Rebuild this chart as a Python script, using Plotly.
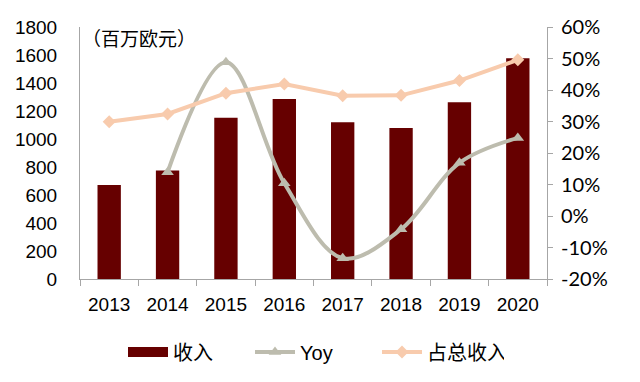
import plotly.graph_objects as go

years = ["2013", "2014", "2015", "2016", "2017", "2018", "2019", "2020"]
revenue = [672, 775, 1152, 1285, 1119, 1079, 1262, 1577]
yoy_years = ["2014", "2015", "2016", "2017", "2018", "2019", "2020"]
yoy = [13.9, 48.8, 10.4, -13.4, -4.2, 16.9, 24.8]
share = [29.9, 32.4, 39.0, 41.9, 38.2, 38.3, 43.0, 49.6]

left_ticks = [0, 200, 400, 600, 800, 1000, 1200, 1400, 1600, 1800]
right_ticks = [-20, -10, 0, 10, 20, 30, 40, 50, 60]

BAR = "#660000"
YOY = "#BDBCAE"
SHARE = "#F8CBAD"

fig = go.Figure()
fig.add_trace(go.Bar(x=years, y=revenue, name="收入", marker_color=BAR,
                     width=0.4, yaxis="y", showlegend=False))
# legend-only entry drawn as a wide block like the original
fig.add_trace(go.Scatter(x=[None], y=[None], name="收入", mode="lines",
                         line=dict(color=BAR, width=12), yaxis="y"))
fig.add_trace(go.Scatter(x=yoy_years, y=yoy, name="Yoy", mode="lines+markers",
                         line=dict(color=YOY, width=4, shape="spline", smoothing=1.0),
                         marker=dict(symbol="triangle-up", size=11, color=YOY),
                         yaxis="y2"))
fig.add_trace(go.Scatter(x=years, y=share, name="占总收入", mode="lines+markers",
                         line=dict(color=SHARE, width=4),
                         marker=dict(symbol="diamond", size=10, color=SHARE),
                         yaxis="y2"))

fig.update_layout(
    template="none",
    width=640, height=382,
    margin=dict(l=80, r=93, t=27, b=102),
    plot_bgcolor="white", paper_bgcolor="white",
    font=dict(family="Liberation Sans, Arial", size=19, color="#000000"),
    showlegend=True,
    legend=dict(orientation="h", x=0.5, xanchor="center", y=-0.285, yanchor="middle",
                font=dict(size=20, family="Liberation Sans, Noto Sans CJK SC"),
                itemwidth=40, entrywidth=72, entrywidthmode="pixels",
                traceorder="normal", bgcolor="rgba(0,0,0,0)"),
    xaxis=dict(type="category", range=[-0.5, 7.5], showline=True, linecolor="#A6A6A6",
               linewidth=1, ticks="outside", tickson="boundaries", ticklen=6,
               tickcolor="#A6A6A6", showgrid=False, zeroline=False, automargin=False,
               ticklabelstandoff=8, tickfont=dict(size=19)),
    yaxis=dict(range=[0, 1800], tickvals=left_ticks, showline=True, linecolor="#A6A6A6",
               linewidth=1, showgrid=False, zeroline=False, ticks="", ticklabelstandoff=18,
               automargin=False, tickfont=dict(size=19)),
    yaxis2=dict(range=[-20, 60], tickvals=right_ticks,
                ticktext=[f"{v}%" for v in right_ticks], overlaying="y", side="right",
                showline=True, linecolor="#A6A6A6", linewidth=1, showgrid=False,
                zeroline=False, ticks="outside", ticklen=5, tickcolor="#A6A6A6",
                automargin=False, ticklabelstandoff=4,
                tickfont=dict(size=20, family="Lato, Liberation Sans")),
    annotations=[dict(text="（百万欧元）", x=0.0, y=0.957, xref="paper", yref="paper",
                      xanchor="left", yanchor="middle", showarrow=False,
                      font=dict(size=19, family="Noto Sans CJK SC"))],
)

fig.write_html("out.html", config={"displayModeBar": False},
               post_script="document.body.style.margin='0px';document.body.style.overflow='hidden';")
